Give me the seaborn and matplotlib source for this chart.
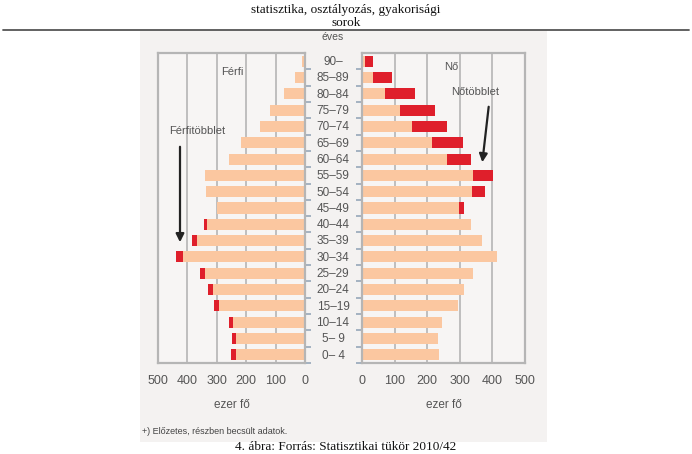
import matplotlib
matplotlib.use("Agg")
import matplotlib.pyplot as plt
import seaborn as sns
import numpy as np
import pandas as pd

age_groups = ["90–", "85–89", "80–84", "75–79", "70–74", "65–69", "60–64",
              "55–59", "50–54", "45–49", "40–44", "35–39", "30–34", "25–29",
              "20–24", "15–19", "10–14", "5– 9", "0– 4"]
male = [10, 34, 72, 118, 153, 216, 260, 340, 337, 298, 343, 384, 438, 358,
        330, 309, 260, 249, 251]
female = [33, 93, 164, 225, 260, 310, 333, 402, 377, 314, 334, 369, 414, 341,
          312, 293, 244, 233, 235]
x_ticks = [0, 100, 200, 300, 400, 500]

df = pd.DataFrame({"age": age_groups, "male": male, "female": female})
df["common"] = df[["male", "female"]].min(axis=1)

sns.set_theme(style="white")
plt.rcParams["font.family"] = ["Liberation Sans", "DejaVu Sans"]

W, H = 692, 454
fig = plt.figure(figsize=(W / 100, H / 100), dpi=100)
fig.patch.set_facecolor("white")

def box(x0, y0, x1, y1):
    return [x0 / W, 1 - y1 / H, (x1 - x0) / W, (y1 - y0) / H]

# page background of scanned chart
bg = fig.add_axes(box(140, 30, 547, 442))
bg.set_facecolor("#f4f2f1")
bg.set_xticks([]); bg.set_yticks([])
for s in bg.spines.values():
    s.set_visible(False)

peach = "#fbc7a0"
red = "#df1f2b"
grid_c = "#b5b5b5"
txt_c = "#555555"

axL = fig.add_axes(box(158, 53, 305, 363))
axR = fig.add_axes(box(362, 53, 525, 363))

bar_kw = dict(orient="h", width=0.68, saturation=1, linewidth=0)

# left: men
sns.barplot(data=df, y="age", x="male", color=red, ax=axL, **bar_kw)
sns.barplot(data=df, y="age", x="common", color=peach, ax=axL, **bar_kw)
# right: women
sns.barplot(data=df, y="age", x="female", color=red, ax=axR, **bar_kw)
sns.barplot(data=df, y="age", x="common", color=peach, ax=axR, **bar_kw)

for ax in (axL, axR):
    ax.set_facecolor("#f7f5f4")
    ax.set_xticks(x_ticks)
    ax.xaxis.grid(True, color=grid_c, lw=1.2)
    ax.yaxis.grid(False)
    ax.set_axisbelow(True)
    for s in ax.spines.values():
        s.set_color(grid_c)
        s.set_linewidth(1.6)
    ax.tick_params(axis="x", colors=txt_c, labelsize=9, length=3,
                   color=grid_c, pad=6)
    ax.set_ylabel("")
    ax.set_xlabel("ezer fő", color=txt_c, fontsize=8.5, labelpad=8)
    ax.set_yticks(np.arange(len(age_groups)) + 0.5)
    ax.set_yticklabels([])
    ax.set_ylim(18.5, -0.5)

axL.set_xlim(500, 0)
axL.yaxis.tick_right()
axL.tick_params(axis="y", length=4, color="#9aaabb", right=True, left=False)
axR.set_xlim(0, 500)
axR.tick_params(axis="y", length=4, color="#9aaabb", left=True)

# age labels in the middle
for i, a in enumerate(age_groups):
    y = 62 + i * (355.7 - 62) / 18
    fig.text(333 / W, 1 - y / H, a, ha="center", va="center",
             fontsize=8.5, color=txt_c)
fig.text(333 / W, 1 - 37 / H, "éves", ha="center", va="center",
         fontsize=7.5, color=txt_c)

# annotations
fig.text(232 / W, 1 - 72 / H, "Férfi", ha="center", va="center",
         fontsize=8, color=txt_c)
fig.text(197 / W, 1 - 131 / H, "Férfitöbblet", ha="center", va="center",
         fontsize=8, color=txt_c)
fig.text(451 / W, 1 - 67 / H, "Nő", ha="center", va="center",
         fontsize=8, color=txt_c)
fig.text(475 / W, 1 - 92 / H, "Nőtöbblet", ha="center", va="center",
         fontsize=8, color=txt_c)
fig.patches.append(matplotlib.patches.FancyArrowPatch(
    (180 / W, 1 - 144 / H), (180 / W, 1 - 245 / H), transform=fig.transFigure,
    arrowstyle="-|>", mutation_scale=12, color="#222222", lw=1.6))
fig.patches.append(matplotlib.patches.FancyArrowPatch(
    (489 / W, 1 - 104 / H), (482 / W, 1 - 165 / H), transform=fig.transFigure,
    arrowstyle="-|>", mutation_scale=12, color="#222222", lw=1.6))

fig.text(142 / W, 1 - 432 / H, "+) Előzetes, részben becsült adatok.",
         ha="left", va="center", fontsize=6.5, color="#444444")

# document header and caption
serif = ["Liberation Serif", "DejaVu Serif"]
fig.text(346 / W, 1 - 10 / H, "statisztika, osztályozás, gyakorisági",
         ha="center", va="center", fontsize=9.5, color="#111111", family=serif)
fig.text(346 / W, 1 - 23 / H, "sorok",
         ha="center", va="center", fontsize=9.5, color="#111111", family=serif)
fig.add_artist(matplotlib.lines.Line2D([3 / W, 689 / W], [1 - 30 / H, 1 - 30 / H],
                                       color="#555555", lw=1.3))
fig.text(346 / W, 1 - 447 / H, "4. ábra: Forrás: Statisztikai tükör 2010/42",
         ha="center", va="center", fontsize=9.5, color="#111111", family=serif)

fig.savefig("out.png", dpi=100, facecolor="white")
